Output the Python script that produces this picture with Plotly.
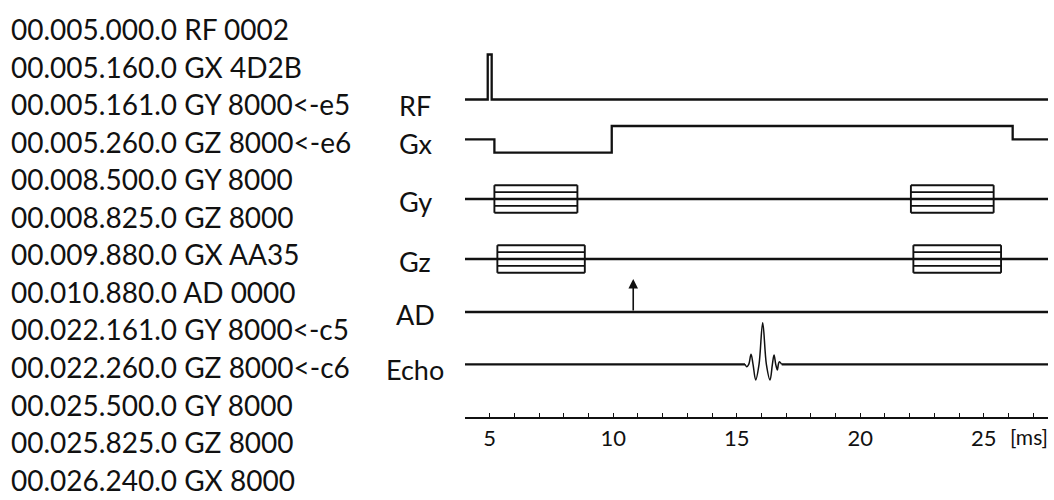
import plotly.graph_objects as go

# ---------------- data ----------------
sequence_lines = [
    "00.005.000.0 RF 0002",
    "00.005.160.0 GX 4D2B",
    "00.005.161.0 GY 8000<-e5",
    "00.005.260.0 GZ 8000<-e6",
    "00.008.500.0 GY 8000",
    "00.008.825.0 GZ 8000",
    "00.009.880.0 GX AA35",
    "00.010.880.0 AD 0000",
    "00.022.161.0 GY 8000<-c5",
    "00.022.260.0 GZ 8000<-c6",
    "00.025.500.0 GY 8000",
    "00.025.825.0 GZ 8000",
    "00.026.240.0 GX 8000",
]
channel_labels = ["RF", "Gx", "Gy", "Gz", "AD", "Echo"]

t_start, t_end = 4.0, 27.6

rf_t = [4.0, 4.92, 4.92, 5.08, 5.08, 27.6]
rf_v = [0, 0, 1, 1, 0, 0]

gx_t = [4.0, 5.19, 5.19, 9.94, 9.94, 26.17, 26.17, 27.6]
gx_v = [0, 0, -1, -1, 1, 1, 0, 0]

gy_start = [5.19, 22.05]
gy_end = [8.55, 25.40]
gz_start = [5.31, 22.15]
gz_end = [8.85, 25.70]
pe_levels = [-1, -0.5, 0, 0.5, 1]

ad_t = [10.81]

echo_t = [15.336, 15.404, 15.485, 15.579, 15.660, 15.768, 15.903, 16.051,
          16.200, 16.348, 16.443, 16.510, 16.578, 16.645, 16.686, 16.726, 16.820]
echo_v = [0, -0.056, 0, 0.24, 0, -0.376, 0, 1.0,
          0, -0.376, 0, 0.224, 0, -0.136, 0, 0.064, 0]

tick_vals = [5, 10, 15, 20, 25]
tick_text = ["5", "10", "15", "20", "25"]
unit_label = "[ms]"

# ---------------- layout / style constants ----------------
W, H = 1054, 500
PL, PR = 465, 1048      # plot area (pixels)
PB = 417                # axis line (pixels from top)

BASE = {"RF": 99.5, "Gx": 139.3, "Gy": 199.0, "Gz": 259.0, "AD": 312.0, "Echo": 364.3}
LABEL_Y = {"RF": 105.5, "Gx": 144.0, "Gy": 201.5, "Gz": 261.3, "AD": 314.0, "Echo": 369.0}
LABEL_X = 415
RF_AMP = 45
GX_AMP = 13.3
PE_AMP = 13.8
AD_LEN = 33
ECHO_AMP = 41.6

INK = "#111111"
LW = 2.3
FONT = "Lato"


def yv(pix):
    return PB - pix


def paper_x(px):
    return (px - PL) / (PR - PL)


def paper_y(pix):
    return (PB - pix) / PB


fig = go.Figure()


def line(x, y, width=LW, shape="linear"):
    fig.add_trace(go.Scatter(x=x, y=y, mode="lines", hoverinfo="skip",
                             line=dict(color=INK, width=width, shape=shape),
                             showlegend=False, cliponaxis=False))


# RF
line(rf_t, [yv(BASE["RF"]) + RF_AMP * v for v in rf_v])
# Gx
line(gx_t, [yv(BASE["Gx"]) + GX_AMP * v for v in gx_v])

# phase-encode tables
for ch, starts, ends in (("Gy", gy_start, gy_end), ("Gz", gz_start, gz_end)):
    b = yv(BASE[ch])
    line([t_start, t_end], [b, b])
    xs, ys = [], []
    for s, e in zip(starts, ends):
        for lv in pe_levels:
            xs += [s, e, None]
            ys += [b + PE_AMP * lv, b + PE_AMP * lv, None]
        for edge in (s, e):
            xs += [edge, edge, None]
            ys += [b + PE_AMP * pe_levels[0], b + PE_AMP * pe_levels[-1], None]
    line(xs, ys, width=1.9)

# AD
bad = yv(BASE["AD"])
line([t_start, t_end], [bad, bad])

# Echo
be = yv(BASE["Echo"])
line([t_start, echo_t[0]], [be, be])
line([echo_t[-1], t_end], [be, be])
line(echo_t, [be + ECHO_AMP * v for v in echo_v], width=1.5, shape="spline")

annotations = []
for t in ad_t:
    annotations.append(dict(x=t, y=bad + AD_LEN, ax=t, ay=bad, xref="x", yref="y",
                            axref="x", ayref="y", text="", showarrow=True,
                            arrowhead=2, arrowsize=1.2, arrowwidth=1.6, arrowcolor=INK,
                            standoff=0, startstandoff=0))

for i, txt in enumerate(sequence_lines):
    annotations.append(dict(x=paper_x(9), y=paper_y(29 + 37.55 * i), xref="paper", yref="paper",
                            text=txt, showarrow=False, xanchor="left", yanchor="middle",
                            font=dict(family=FONT, size=28, color=INK)))

for ch in channel_labels:
    annotations.append(dict(x=paper_x(LABEL_X), y=paper_y(LABEL_Y[ch]), xref="paper", yref="paper",
                            text=ch, showarrow=False, xanchor="center", yanchor="middle",
                            font=dict(family=FONT, size=27, color=INK)))

annotations.append(dict(x=paper_x(1029), y=paper_y(437), xref="paper", yref="paper",
                        text=unit_label, showarrow=False, xanchor="center", yanchor="middle",
                        font=dict(family=FONT, size=21, color=INK)))

fig.update_layout(
    width=W, height=H,
    margin=dict(l=PL, r=W - PR, t=0, b=H - PB, pad=0),
    paper_bgcolor="white", plot_bgcolor="white",
    annotations=annotations,
    xaxis=dict(range=[t_start, t_end], showgrid=False, zeroline=False,
               showline=True, linecolor=INK, linewidth=LW,
               ticks="inside", tickvals=tick_vals, ticktext=tick_text,
               ticklen=4, tickwidth=1.3, tickcolor=INK,
               minor=dict(dtick=1, tick0=4, ticks="inside", ticklen=4, tickwidth=1.3, tickcolor=INK),
               tickfont=dict(family=FONT, size=22, color=INK)),
    yaxis=dict(range=[0, PB], visible=False, fixedrange=True),
)

fig.write_html("out.html", config={"displayModeBar": False},
               post_script="document.body.style.margin='0';document.body.style.overflow='hidden';")
